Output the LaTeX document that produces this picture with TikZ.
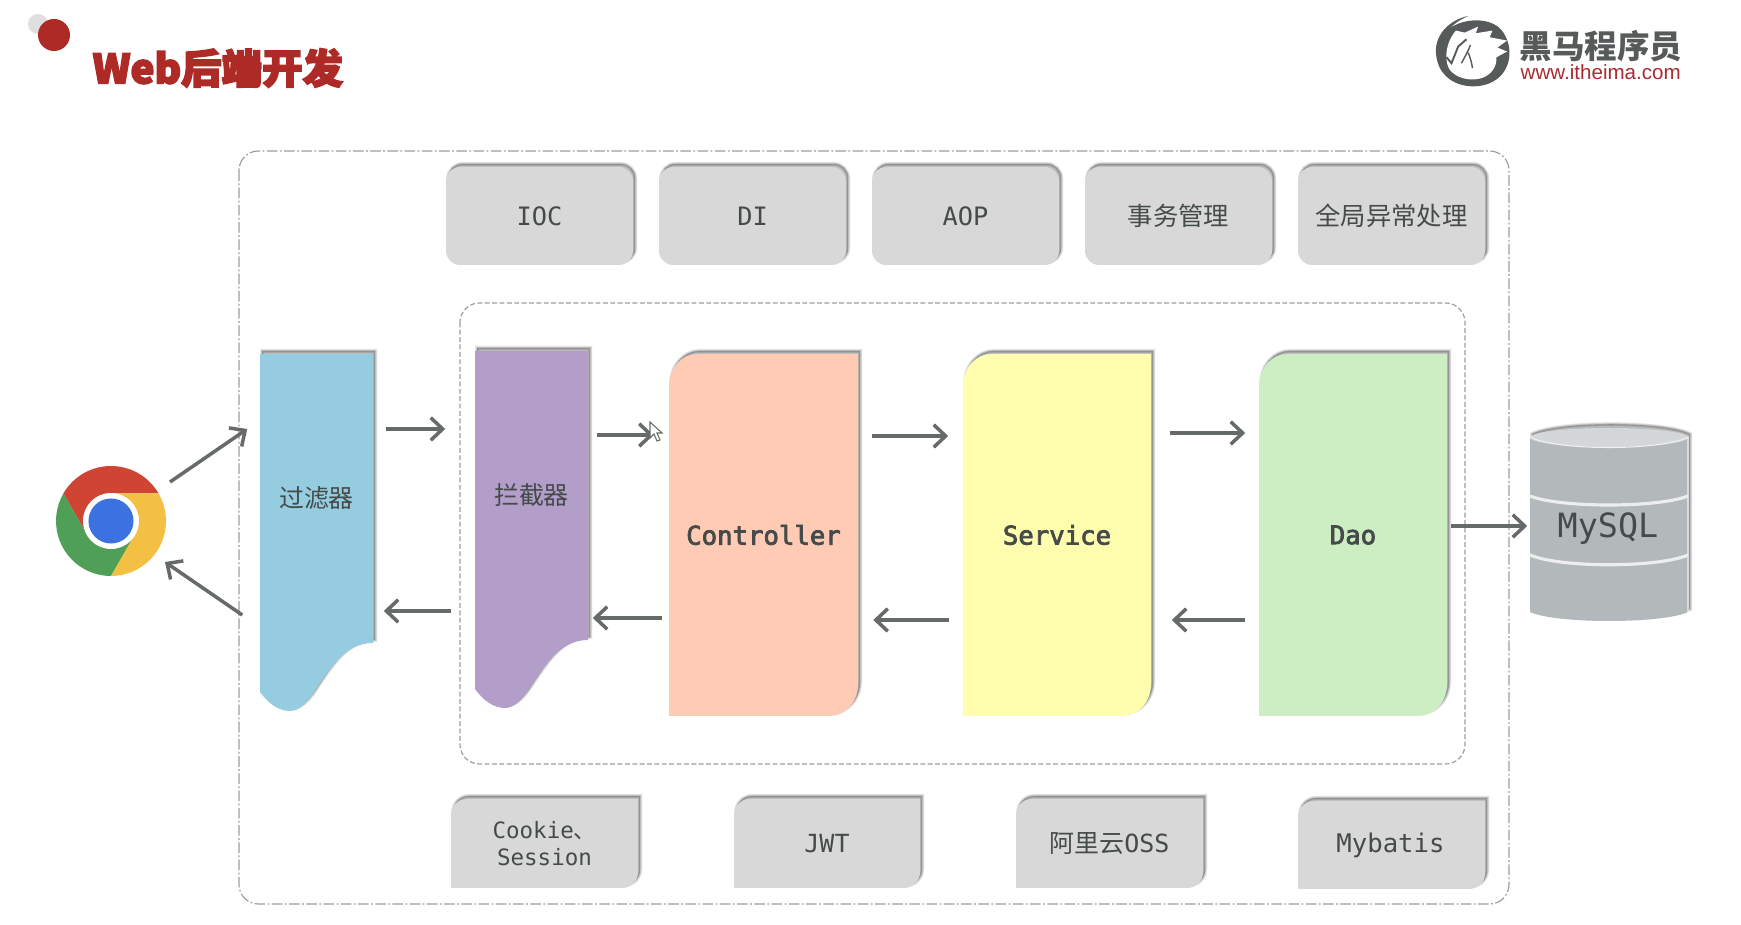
\documentclass[tikz,border=0pt]{standalone}
\usepackage{fontspec}
\setmonofont{DejaVu Sans Mono}
\setsansfont{Liberation Sans}
\newfontfamily\cjk{Noto Sans CJK SC}
\newfontfamily\midmono[FakeBold=3]{DejaVu Sans Mono}
\newfontfamily\titlefont[BoldFeatures={FakeBold=4}]{Noto Sans CJK SC}
\usetikzlibrary{arrows.meta}

\definecolor{titlered}{HTML}{AE2A26}
\definecolor{dotgray}{HTML}{DFDFDF}
\definecolor{logogray}{HTML}{565A5A}
\definecolor{logored}{HTML}{A62B32}
\definecolor{cardgray}{HTML}{D8D8D8}
\definecolor{labelgray}{HTML}{454A4A}
\definecolor{flowgray}{HTML}{666A6A}
\definecolor{framegray}{HTML}{9C9C9C}
\definecolor{filterblue}{HTML}{95CCDF}
\definecolor{interpurple}{HTML}{B29EC8}
\definecolor{ctrlpeach}{HTML}{FFCBB4}
\definecolor{serviceyellow}{HTML}{FFFEAF}
\definecolor{daogreen}{HTML}{CDEEC3}
\definecolor{dbgray}{HTML}{B3B8BA}
\definecolor{dbtop}{HTML}{D3D7D9}
\definecolor{chromered}{HTML}{CF4433}
\definecolor{chromegreen}{HTML}{4FA056}
\definecolor{chromeyellow}{HTML}{F4C044}
\definecolor{chromeblue}{HTML}{3C72DF}

\tikzset{
  softedge/.style={draw=black, fill=black, draw opacity=.07, fill opacity=.07, shift={(2.2,-3)}},
  flow/.style={draw=flowgray, line width=1pt, -{Straight Barb[length=3.4pt,width=6.4pt,line width=1pt]}},
  outerframe/.style={draw=framegray, line width=.33pt, rounded corners=5.5pt, dash pattern=on 3pt off .7pt on .5pt off .7pt},
  innerframe/.style={draw=framegray, line width=.33pt, rounded corners=5.5pt, dash pattern=on 1.4pt off .7pt},
  toplabel/.style={inner sep=0pt, minimum width=1.87cm, minimum height=.98cm, align=center, text=labelgray, font=\ttfamily\fontsize{7.2}{8.6}\selectfont},
  lowlabel/.style={inner sep=0pt, minimum width=1.87cm, minimum height=.89cm, align=center, text=labelgray, font=\ttfamily\fontsize{7.1}{8.6}\selectfont},
  biglabel/.style={inner sep=0pt, minimum width=1.88cm, minimum height=3.61cm, text=labelgray, font=\midmono\fontsize{7.3}{9}\selectfont},
  flaglabel/.style={inner sep=0pt, minimum width=1.13cm, minimum height=2.88cm, text=labelgray, font=\cjk\fontsize{7.1}{9}\selectfont},
}

% shadow first, then the shape itself
\newcommand{\softcard}[2]{%
\path[softedge, line width=1.2pt] #2;
\path[softedge, line width=.9pt] #2;
\path[softedge, line width=.6pt] #2;
\path[softedge, line width=.3pt] #2;
\fill[#1] #2;}

\begin{document}
\begin{tikzpicture}[x=.01cm, y=-.01cm]
\useasboundingbox (0,0) rectangle (1741,925);

\fill[dotgray] (38,24) circle(10);
\fill[titlered] (54,35) circle(16);
\node[anchor=west, inner sep=0pt, text=titlered, font=\titlefont\bfseries\fontsize{11.5}{14}\selectfont] (title) at (92,68) {Web后端开发};

% logo
\begin{scope}[shift={(1350,0)}, x=.00333cm, y=-.00333cm]
\fill[logogray] (258,150) .. controls (260,100) and (300,60) .. (355,48) .. controls (320,65) and (310,75) .. (300,85)
  .. controls (340,55) and (420,50) .. (455,90) .. controls (495,140) and (485,215) .. (430,245)
  .. controls (390,268) and (320,265) .. (285,225) .. controls (265,205) and (258,175) .. (258,150) -- cycle;
\fill[white] (318,92) -- (345,98) -- (385,80) -- (378,100) -- (428,92) -- (420,112) -- (472,122) -- (443,143) -- (472,155) -- (440,172)
  .. controls (442,200) and (425,225) .. (395,235) .. controls (360,245) and (320,235) .. (300,210)
  .. controls (285,190) and (282,135) .. (318,92) -- cycle;
\draw[logogray, line width=.55pt] (290,172) -- (305,190) -- (325,140) -- (350,118);
\draw[logogray, line width=.4pt] (362,135) .. controls (355,155) and (345,170) .. (335,190);
\draw[logogray, line width=.4pt] (355,158) .. controls (362,175) and (366,190) .. (368,205);
\end{scope}
\node[anchor=west, inner sep=0pt, text=logogray, font=\cjk\bfseries\fontsize{9.25}{11}\selectfont] (logoname) at (1519,46) {黑马程序员};
\node[anchor=west, inner sep=0pt, text=logored, font=\sffamily\fontsize{5.85}{7}\selectfont] (logosite) at (1520,72) {www.itheima.com};

% frames
\draw[outerframe] (239,151) rectangle (1509,904);
\draw[innerframe] (460,303) rectangle (1465,764);

% top row
\softcard{cardgray}{[rounded corners=4pt] (446,167) rectangle (633,265)}
\softcard{cardgray}{[rounded corners=4pt] (659,167) rectangle (846,265)}
\softcard{cardgray}{[rounded corners=4pt] (872,167) rectangle (1059,265)}
\softcard{cardgray}{[rounded corners=4pt] (1085,167) rectangle (1272,265)}
\softcard{cardgray}{[rounded corners=4pt] (1298,167) rectangle (1485,265)}
\node[toplabel] (ioc) at (539.5,216) {IOC};
\node[toplabel] (di) at (752.5,216) {DI};
\node[toplabel] (aop) at (965.5,216) {AOP};
\node[toplabel] (tx) at (1178.5,216) {\cjk 事务管理};
\node[toplabel] (errors) at (1391.5,216) {\cjk 全局异常处理};

% flags
\softcard{filterblue}{(260,354) -- (373,354) -- (373,643) .. controls (345,643) and (330,668) .. (312,695) .. controls (305,705) and (298,711) .. (290,711) .. controls (278,711) and (268,703) .. (260,692) -- cycle}
\softcard{interpurple}{(475,351) -- (588,351) -- (588,640) .. controls (560,640) and (545,665) .. (527,692) .. controls (520,702) and (513,708) .. (505,708) .. controls (493,708) and (483,700) .. (475,689) -- cycle}
\node[flaglabel] (filter) at (316.5,498) {过滤器};
\node[flaglabel] (inter) at (531.5,495) {拦截器};

% three layers
\softcard{ctrlpeach}{(669,716) -- (669,386) .. controls (669,368) and (682,354) .. (697,354) -- (858,354) -- (858,684) .. controls (858,702) and (845,716) .. (830,716) -- cycle}
\softcard{serviceyellow}{(963,716) -- (963,386) .. controls (963,368) and (976,354) .. (991,354) -- (1151,354) -- (1151,684) .. controls (1151,702) and (1138,716) .. (1123,716) -- cycle}
\softcard{daogreen}{(1259,716) -- (1259,386) .. controls (1259,368) and (1272,354) .. (1287,354) -- (1447,354) -- (1447,684) .. controls (1447,702) and (1434,716) .. (1419,716) -- cycle}
\node[biglabel] (ctrl) at (763.5,535) {Controller};
\node[biglabel] (service) at (1057,535) {Service};
\node[biglabel] (dao) at (1353,535) {Dao};

% bottom row
\softcard{cardgray}{(451,888) -- (451,815) .. controls (451,806) and (458,799) .. (467,799) -- (638,799) -- (638,872) .. controls (638,881) and (631,888) .. (622,888) -- cycle}
\softcard{cardgray}{(734,888) -- (734,815) .. controls (734,806) and (741,799) .. (750,799) -- (920,799) -- (920,872) .. controls (920,881) and (913,888) .. (904,888) -- cycle}
\softcard{cardgray}{(1016,888) -- (1016,815) .. controls (1016,806) and (1023,799) .. (1032,799) -- (1203,799) -- (1203,872) .. controls (1203,881) and (1196,888) .. (1187,888) -- cycle}
\softcard{cardgray}{(1298,889) -- (1298,817) .. controls (1298,808) and (1305,801) .. (1314,801) -- (1485,801) -- (1485,873) .. controls (1485,882) and (1478,889) .. (1469,889) -- cycle}
\node[lowlabel] (cookie) at (544.5,843.5) {\fontsize{6.4}{7.5}\selectfont Cookie{\cjk 、}\\[-1pt]\fontsize{6.4}{7.5}\selectfont Session};
\node[lowlabel] (jwt) at (827,843.5) {JWT};
\node[lowlabel] (oss) at (1109.5,843.5) {{\cjk 阿里云}OSS};
\node[lowlabel] (mybatis) at (1390.5,845) {\fontsize{7.3}{8.6}\selectfont Mybatis};

% database
\softcard{dbgray}{(1530,437) -- (1530,612) .. controls (1555,624) and (1663,624) .. (1688,612) -- (1688,437) .. controls (1663,424) and (1555,424) .. (1530,437) -- cycle}
\fill[dbtop] (1609,437.5) ellipse[x radius=79, y radius=9.5];
\draw[white!80!dbgray, line width=.3pt] (1530,437) .. controls (1555,451) and (1663,451) .. (1688,437) -- (1688,612);
\draw[white!75!dbgray, line width=.9pt] (1530,496) .. controls (1560,508) and (1658,508) .. (1688,496);
\draw[white!75!dbgray, line width=.9pt] (1530,555) .. controls (1560,568) and (1658,568) .. (1688,555);
\node[inner sep=0pt, minimum width=1.58cm, minimum height=1.9cm, text=labelgray, font=\ttfamily\fontsize{9.5}{11}\selectfont] (mysql) at (1608,529) {MySQL};

% browser
\fill[chromered] (158.6,493.5) arc[start angle=-30, end angle=-150, radius=55] -- (87.2,534.7) -- (111,521) -- (111,493.5) -- cycle;
\fill[chromegreen] (63.4,493.5) arc[start angle=-150, end angle=-270, radius=55] -- (134.8,534.7) -- (111,521) -- (87.2,534.7) -- cycle;
\fill[chromeyellow] (111,576) arc[start angle=90, end angle=-30, radius=55] -- (111,493.5) -- (111,521) -- (134.8,534.7) -- cycle;
\fill[white] (111,521) circle(28);
\node[circle, fill=chromeblue, inner sep=0pt, minimum size=.45cm] (chromecore) at (111,521) {};
\node[circle, inner sep=0pt, minimum size=1.1cm] (browser) at (111,521) {};

% requests
\draw[flow] ([shift={(59,-39)}]browser.center) -- ([shift={(-12,-69)}]filter.west);
\draw[flow] ([shift={(12,-69)}]filter.east) -- ([shift={(-29,-66)}]inter.west);
\draw[flow] ([shift={(8,-60)}]inter.east) -- ([shift={(-15,-100)}]ctrl.west);
\draw[flow] ([shift={(14,-99)}]ctrl.east) -- ([shift={(-14,-99)}]service.west);
\draw[flow] ([shift={(18,-102)}]service.east) -- ([shift={(-13,-102)}]dao.west);
\draw[flow] ([shift={(3,-9)}]dao.east) -- ([shift={(-1,-3)}]mysql.west);

% responses
\draw[flow] ([shift={(-13,85)}]dao.west) -- ([shift={(20,85)}]service.east);
\draw[flow] ([shift={(-13,85)}]service.west) -- ([shift={(15,85)}]ctrl.east);
\draw[flow] ([shift={(-7,83)}]ctrl.west) -- ([shift={(4,123)}]inter.east);
\draw[flow] ([shift={(-23,116)}]inter.west) -- ([shift={(10,113)}]filter.east);
\draw[flow] ([shift={(-17,117)}]filter.west) -- ([shift={(54,41)}]browser.center);

% mouse pointer
\draw[fill=white, draw=flowgray, line width=.3pt] (650,422) -- (650,438) -- (654,434) -- (657,441) -- (660,440) -- (657,433) -- (662,433) -- cycle;

\end{tikzpicture}
\end{document}
